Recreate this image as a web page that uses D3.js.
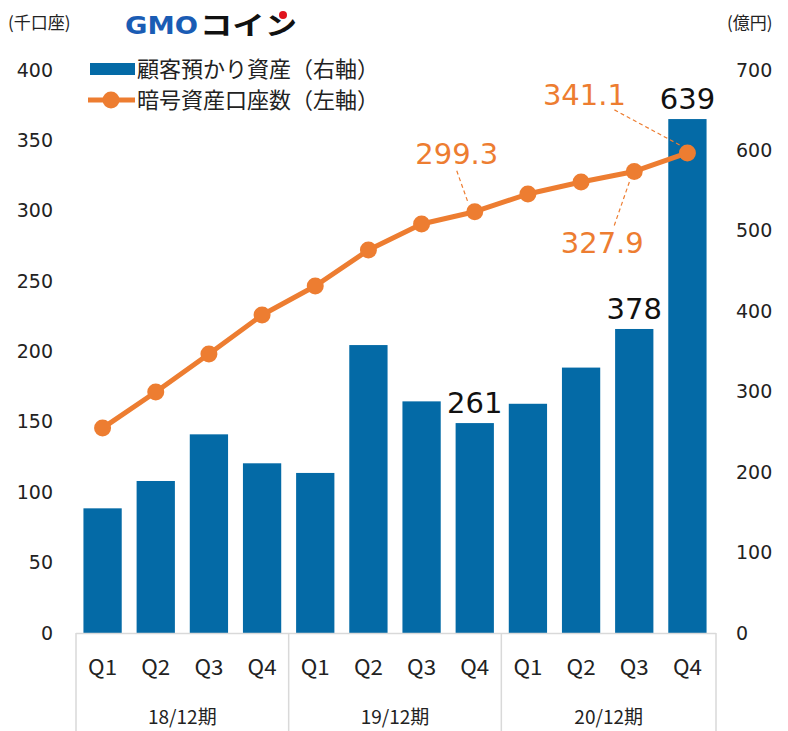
<!DOCTYPE html>
<html>
<head>
<meta charset="utf-8">
<script src="https://cdn.jsdelivr.net/npm/d3@7"></script>
<style>
  body { margin: 0; background: #fff; }
  svg { display: block; }
</style>
</head>
<body>
<svg id="chart" width="788" height="731"></svg>
<script>
// quarters and fiscal years
const quarters = ["Q1", "Q2", "Q3", "Q4", "Q1", "Q2", "Q3", "Q4", "Q1", "Q2", "Q3", "Q4"];
const periods = ["18/12期", "19/12期", "20/12期"];

// 顧客預かり資産 (億円, right axis)
const assets = [155, 189, 247, 211, 199, 358, 288, 261, 285, 330, 378, 639];
// 暗号資産口座数 (千口座, left axis)
const accounts = [145.6, 171.2, 198.2, 225.9, 246.5, 272.1, 290.6, 299.3, 311.9, 320.4, 327.9, 341.1];

// which points get value labels
const barLabelIdx = [7, 10, 11];
const lineLabelIdx = [7, 10, 11];

const leftTicks = [0, 50, 100, 150, 200, 250, 300, 350, 400];
const rightTicks = [0, 100, 200, 300, 400, 500, 600, 700];

const seriesNames = ["顧客預かり資産（右軸）", "暗号資産口座数（左軸）"];

const barColor = "#046aa6";
const lineColor = "#ed7d31";
const textColor = "#222";
const numFont = "'DejaVu Sans', Verdana, sans-serif";
const jpFont = "'Noto Sans CJK JP', 'Noto Sans', sans-serif";

const dims = { left: 76, right: 714, top: 70, bottom: 633 };

const svg = d3.select("#chart");

const xScale = d3.scaleBand()
    .domain(d3.range(quarters.length))
    .range([dims.left, dims.right])
    .paddingInner(0.28)
    .paddingOuter(0.14);

const yLeft = d3.scaleLinear().domain([0, 400]).range([dims.bottom, dims.top]);
const yRight = d3.scaleLinear().domain([0, 700]).range([dims.bottom, dims.top]);

// unit labels
svg.append("text")
    .attr("x", 8).attr("y", 29)
    .attr("font-family", jpFont).attr("font-size", 17)
    .attr("fill", textColor)
    .text("(千口座)");

svg.append("text")
    .attr("x", 727).attr("y", 29)
    .attr("font-family", jpFont).attr("font-size", 17)
    .attr("fill", textColor)
    .text("(億円)");

// logo
const logo = svg.append("g");
logo.append("text")
    .attr("x", 125).attr("y", 34)
    .attr("font-family", numFont).attr("font-weight", "bold").attr("font-size", 25)
    .attr("fill", "#1a5cb4")
    .attr("textLength", 73).attr("lengthAdjust", "spacingAndGlyphs")
    .text("GMO");
logo.append("text")
    .attr("x", 200).attr("y", 35)
    .attr("font-family", jpFont).attr("font-weight", "bold").attr("font-size", 26)
    .attr("fill", "#111")
    .attr("textLength", 97).attr("lengthAdjust", "spacingAndGlyphs")
    .text("コイン");
logo.append("circle")
    .attr("cx", 283).attr("cy", 15).attr("r", 4)
    .attr("fill", "#e0141e");

// axes
const leftAxis = svg.append("g")
    .attr("transform", "translate(53,0)")
    .call(d3.axisLeft(yLeft).tickValues(leftTicks).tickSize(0).tickPadding(0));
const rightAxis = svg.append("g")
    .attr("transform", "translate(736,0)")
    .call(d3.axisRight(yRight).tickValues(rightTicks).tickSize(0).tickPadding(0));
[leftAxis, rightAxis].forEach(ax => {
    ax.select(".domain").remove();
    ax.selectAll("text")
        .attr("font-family", numFont)
        .attr("font-size", 19)
        .attr("fill", textColor);
});

// bars
svg.selectAll(".bar")
    .data(assets)
    .enter()
    .append("rect")
    .attr("class", "bar")
    .attr("x", (d, i) => xScale(i))
    .attr("y", d => yRight(d))
    .attr("width", xScale.bandwidth())
    .attr("height", d => yRight(0) - yRight(d))
    .attr("fill", barColor);

// category box under the plot
const step = xScale.step();
const gridColor = "#d9d9d9";
svg.append("line")
    .attr("x1", dims.left).attr("x2", dims.right + 2)
    .attr("y1", dims.bottom + 0.5).attr("y2", dims.bottom + 0.5)
    .attr("stroke", gridColor).attr("stroke-width", 1.5);
const bounds = [dims.left, xScale(4) - step * 0.14, xScale(8) - step * 0.14, dims.right + 2];
svg.selectAll(".sep")
    .data(bounds)
    .enter()
    .append("line")
    .attr("class", "sep")
    .attr("x1", d => d).attr("x2", d => d)
    .attr("y1", dims.bottom).attr("y2", 731)
    .attr("stroke", gridColor).attr("stroke-width", 1.5);

svg.selectAll(".qlabel")
    .data(quarters)
    .enter()
    .append("text")
    .attr("class", "qlabel")
    .attr("x", (d, i) => xScale(i) + xScale.bandwidth() / 2)
    .attr("y", 675)
    .attr("text-anchor", "middle")
    .attr("font-family", jpFont).attr("font-size", 21)
    .attr("fill", textColor)
    .attr("textLength", 29).attr("lengthAdjust", "spacingAndGlyphs")
    .text(d => d);

svg.selectAll(".plabel")
    .data(periods)
    .enter()
    .append("text")
    .attr("class", "plabel")
    .attr("x", (d, i) => (bounds[i] + bounds[i + 1]) / 2)
    .attr("y", 724)
    .attr("text-anchor", "middle")
    .attr("font-family", jpFont).attr("font-size", 19)
    .attr("fill", textColor)
    .text(d => d);

// bar value labels
svg.selectAll(".bar-label")
    .data(barLabelIdx)
    .enter()
    .append("text")
    .attr("class", "bar-label")
    .attr("x", i => xScale(i) + xScale.bandwidth() / 2)
    .attr("y", i => yRight(assets[i]) - 10)
    .attr("text-anchor", "middle")
    .attr("font-family", numFont).attr("font-size", 29)
    .attr("fill", "#111")
    .text(i => assets[i]);

// line
const cx = i => xScale(i) + xScale.bandwidth() / 2;
const line = d3.line()
    .x((d, i) => cx(i))
    .y(d => yLeft(d));

svg.append("path")
    .datum(accounts)
    .attr("d", line)
    .attr("fill", "none")
    .attr("stroke", lineColor)
    .attr("stroke-width", 5)
    .attr("stroke-linejoin", "round");

svg.selectAll(".dot")
    .data(accounts)
    .enter()
    .append("circle")
    .attr("class", "dot")
    .attr("cx", (d, i) => cx(i))
    .attr("cy", d => yLeft(d))
    .attr("r", 8.5)
    .attr("fill", lineColor);

// line value labels with dashed leaders (offsets relative to the point)
const labelOffsets = {
    7: { tx: -18, ty: -48, lx1: -18, ly1: -41, lx2: -7, ly2: -10 },
    10: { tx: -32, ty: 82, lx1: -20, ly1: 54, lx2: -4, ly2: 8 },
    11: { tx: -103, ty: -48, lx1: -73, ly1: -43, lx2: -6, ly2: -7 }
};
lineLabelIdx.forEach(i => {
    const o = labelOffsets[i];
    const px = cx(i), py = yLeft(accounts[i]);
    svg.append("line")
        .attr("x1", px + o.lx1).attr("y1", py + o.ly1)
        .attr("x2", px + o.lx2).attr("y2", py + o.ly2)
        .attr("stroke", lineColor).attr("stroke-width", 1.2)
        .attr("stroke-dasharray", "4,3");
    svg.append("text")
        .attr("x", px + o.tx).attr("y", py + o.ty)
        .attr("text-anchor", "middle")
        .attr("font-family", numFont).attr("font-size", 29)
        .attr("fill", lineColor)
        .text(accounts[i].toFixed(1));
});

// legend
const legend = svg.append("g");
legend.append("rect")
    .attr("x", 90).attr("y", 63)
    .attr("width", 45).attr("height", 12)
    .attr("fill", barColor);
legend.append("line")
    .attr("x1", 88).attr("x2", 135)
    .attr("y1", 100).attr("y2", 100)
    .attr("stroke", lineColor).attr("stroke-width", 5);
legend.append("circle")
    .attr("cx", 111).attr("cy", 100).attr("r", 8.5)
    .attr("fill", lineColor);
legend.selectAll(".legend-text")
    .data(seriesNames)
    .enter()
    .append("text")
    .attr("class", "legend-text")
    .attr("x", 137)
    .attr("y", (d, i) => 69 + i * 31)
    .attr("dy", "0.36em")
    .attr("font-family", jpFont).attr("font-size", 22)
    .attr("fill", textColor)
    .text(d => d);
</script>
</body>
</html>
